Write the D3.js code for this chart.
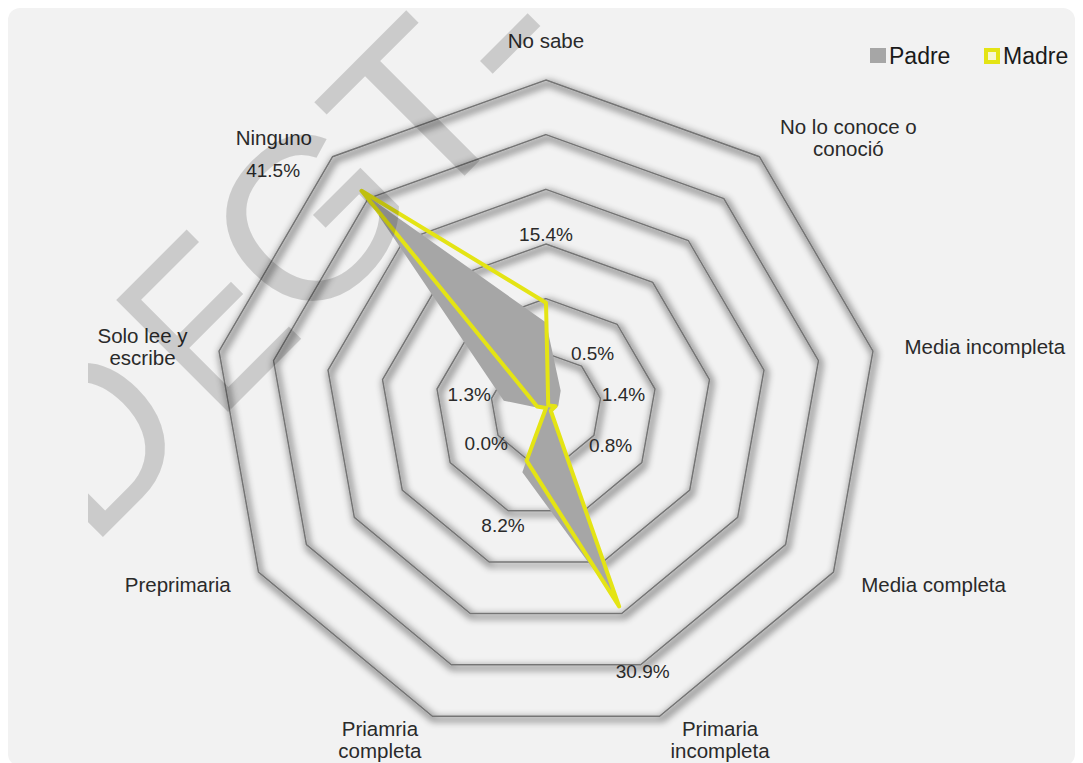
<!DOCTYPE html>
<html>
<head>
<meta charset="utf-8">
<script src="https://cdn.jsdelivr.net/npm/d3@7"></script>
<style>
  html, body { margin: 0; padding: 0; background: #ffffff; }
  svg { display: block; font-family: "Liberation Sans", Arial, sans-serif; }
</style>
</head>
<body>
<svg id="chart" width="1083" height="763"></svg>
<script>
// Nivel educativo de los padres (%)
const categories = [
  "No sabe", "No lo conoce o conoció", "Media incompleta", "Media completa",
  "Primaria incompleta", "Priamria completa", "Preprimaria",
  "Solo lee y escribe", "Ninguno"
];
const categoryLines = [
  ["No sabe"], ["No lo conoce o", "conoció"], ["Media incompleta"], ["Media completa"],
  ["Primaria", "incompleta"], ["Priamria", "completa"], ["Preprimaria"],
  ["Solo lee y", "escribe"], ["Ninguno"]
];
const padre = [12.5, 3.3, 1.8, 1.0, 30.3, 10.0, 0.3, 6.2, 41.0];
const madre = [15.4, 0.5, 1.4, 0.8, 30.9, 8.2, 0.0, 1.3, 41.5];
const ringTicks = [8, 16, 24, 32, 40, 48];
const seriesNames = ["Padre", "Madre"];
const watermark = "DEGT-";

const svg = d3.select("#chart");
const W = 1083, H = 763;

// geometry of the radar
const cx = 546, cy = 408, Rx = 332, Ry = 328;
const n = categories.length;
const r = d3.scaleLinear().domain([0, d3.max(ringTicks)]).range([0, 1]);
const ang = d3.scaleLinear().domain([0, n]).range([0, 2 * Math.PI]);
const dir = i => [Math.sin(ang(i)), -Math.cos(ang(i))];
const pt = (i, v) => [cx + dir(i)[0] * r(v) * Rx, cy + dir(i)[1] * r(v) * Ry];

const defs = svg.append("defs");
const sh = defs.append("filter").attr("id", "ringShadow")
  .attr("x", "-10%").attr("y", "-10%").attr("width", "120%").attr("height", "120%");
sh.append("feMorphology").attr("in", "SourceAlpha").attr("operator", "dilate").attr("radius", 2).attr("result", "d");
sh.append("feGaussianBlur").attr("in", "d").attr("stdDeviation", 3.5).attr("result", "b");
sh.append("feOffset").attr("in", "b").attr("dx", 2).attr("dy", 3).attr("result", "o");
const ct = sh.append("feComponentTransfer").attr("in", "o").attr("result", "s");
ct.append("feFuncA").attr("type", "linear").attr("slope", 0.4);
const mg = sh.append("feMerge");
mg.append("feMergeNode").attr("in", "s");
mg.append("feMergeNode").attr("in", "SourceGraphic");

defs.append("clipPath").attr("id", "wmClip")
  .append("rect").attr("x", 88).attr("y", 8).attr("width", W).attr("height", H);

// chart area
svg.append("rect").attr("x", 8).attr("y", 8).attr("width", 1067).attr("height", 758)
  .attr("rx", 12).attr("fill", "#f2f2f2");

const closed = d3.line().curve(d3.curveLinearClosed);

// rings
svg.append("g").attr("filter", "url(#ringShadow)")
  .selectAll("path").data(ringTicks).join("path")
  .attr("d", t => closed(d3.range(n).map(i => pt(i, t))))
  .attr("fill", "none").attr("stroke", "#747474").attr("stroke-width", 1.5);

// Padre (area)
svg.append("path")
  .attr("d", closed(padre.map((v, i) => pt(i, v))))
  .attr("fill", "#a6a6a6");

// Madre (line)
svg.append("path")
  .attr("d", closed(madre.map((v, i) => pt(i, v))))
  .attr("fill", "none").attr("stroke", "#e4e414").attr("stroke-width", 4)
  .attr("stroke-linejoin", "round");

// value labels (Madre)
const fmt = v => d3.format(".1f")(v) + "%";
const labelShift = { 8: [-44, 32] };
svg.append("g").selectAll("text").data(madre).join("text")
  .attr("x", (v, i) => pt(i, v)[0] + dir(i)[0] * 69 + (labelShift[i] ? labelShift[i][0] : 0))
  .attr("y", (v, i) => pt(i, v)[1] + dir(i)[1] * 69 + (labelShift[i] ? labelShift[i][1] : 0) + 7)
  .attr("text-anchor", "middle")
  .attr("font-size", 19).attr("fill", "#2a2a2a")
  .text(fmt);

// category labels
const lineH = 22;
categoryLines.forEach((lines, i) => {
  const [dx, dy] = dir(i);
  const ax = cx + dx * (Rx + 32), ay = cy + dy * (Ry + 25);
  const g = svg.append("g");
  const texts = lines.map(s => g.append("text").attr("font-size", 20.5).attr("fill", "#2a2a2a")
    .attr("text-anchor", "middle").text(s));
  const bw = d3.max(texts, t => t.node().getComputedTextLength());
  const bh = lines.length * lineH;
  let midX, topY;
  if (Math.abs(dx) < 0.1) { midX = ax; topY = ay - bh - 3; }
  else { midX = dx > 0 ? ax + bw / 2 : ax - bw / 2; topY = ay - bh / 2; }
  texts.forEach((t, k) => t.attr("x", midX).attr("y", topY + k * lineH + lineH / 2 + 7));
});

// legend
const lg = svg.append("g").attr("font-size", 23).attr("fill", "#1a1a1a");
lg.append("rect").attr("x", 870).attr("y", 48).attr("width", 16).attr("height", 15).attr("fill", "#a6a6a6");
lg.append("text").attr("x", 889).attr("y", 64).text(seriesNames[0]);
lg.append("rect").attr("x", 986).attr("y", 50).attr("width", 12).attr("height", 12)
  .attr("fill", "#f7f7d0").attr("stroke", "#e4e414").attr("stroke-width", 4);
lg.append("text").attr("x", 1003).attr("y", 64).text(seriesNames[1]);

// watermark: letters set along a 45° baseline
const wmAlong = [-246, -82, 64, 215, 330];   // letter centres along the baseline
const wmSquash = [0.95, 0.83, 1, 1, 1.2];
const baseOff = 452.6 * Math.SQRT1_2;
const wm = svg.append("g").attr("clip-path", "url(#wmClip)")
  .attr("fill", "#000").attr("fill-opacity", 0.16)
  .attr("font-size", 230);
watermark.split("").forEach((ch, k) => {
  const p = wmAlong[k];
  const bx = p * Math.SQRT1_2 + baseOff, by = -p * Math.SQRT1_2 + baseOff;
  wm.append("text")
    .attr("transform", `translate(${bx},${by}) rotate(-45) scale(${wmSquash[k]},1)`)
    .attr("text-anchor", "middle")
    .text(ch);
});
</script>
</body>
</html>
